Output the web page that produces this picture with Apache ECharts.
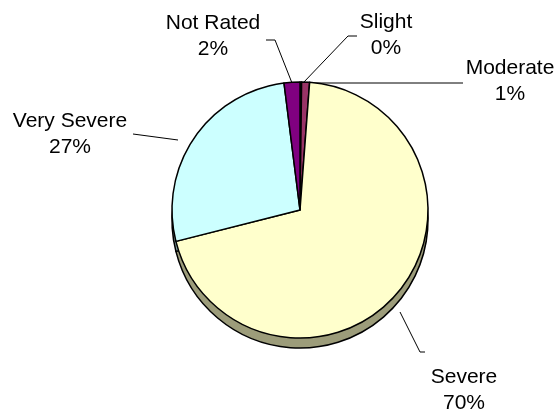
<!DOCTYPE html>
<html>
<head>
<meta charset="utf-8">
<script src="https://cdn.jsdelivr.net/npm/echarts@6/dist/echarts.min.js"></script>
<style>
  html, body { margin: 0; padding: 0; background: #ffffff; }
  #chart { width: 559px; height: 414px; }
</style>
</head>
<body>
<div id="chart"></div>
<script>
  // clockwise from 12 o'clock
  const categories = ['Slight', 'Moderate', 'Severe', 'Very Severe', 'Not Rated'];
  const values = [0.2, 1, 70, 27, 2];
  const topColors = ['#3366cc', '#993366', '#ffffcc', '#ccffff', '#800080'];
  const sideColors = ['#223f80', '#5e1f3f', '#9c9c7a', '#7fa0a0', '#4d004d'];

  // label anchor + leader line per category (layout only)
  const labelPos = {
    'Slight':      { x: 386, y: 35, line: [[357, 36], [348, 36], [303, 83]] },
    'Moderate':    { x: 510, y: 81, line: [[463, 83], [307, 83]] },
    'Severe':      { x: 464, y: 390, line: [[425, 352], [420, 352], [400, 312]] },
    'Very Severe': { x: 70, y: 134, line: [[133, 134], [178, 140]] },
    'Not Rated':   { x: 213, y: 36, line: [[266, 40], [275, 40], [292, 83]] }
  };

  const chart = echarts.init(document.getElementById('chart'));

  const topData = categories.map((c, i) => ({
    name: c, value: values[i], itemStyle: { color: topColors[i] }
  }));
  const sideData = categories.map((c, i) => ({
    name: c, value: values[i], itemStyle: { color: sideColors[i] }
  }));

  chart.setOption({
    animation: false,
    series: [
      {
        type: 'pie',
        silent: true,
        center: [300, 220],
        radius: 128,
        startAngle: 90,
        clockwise: true,
        minAngle: 0,
        label: { show: false },
        labelLine: { show: false },
        itemStyle: { borderColor: '#000', borderWidth: 1.5 },
        data: sideData,
        z: 1
      },
      {
        type: 'pie',
        center: [300, 210],
        radius: 128,
        startAngle: 90,
        clockwise: true,
        minAngle: 0,
        avoidLabelOverlap: false,
        itemStyle: { borderColor: '#000', borderWidth: 1.5 },
        label: {
          show: true,
          color: '#000',
          fontFamily: 'Liberation Sans, Arial, sans-serif',
          fontSize: 21,
          lineHeight: 26,
          align: 'center',
          formatter: p => p.name + '\n' + Math.round(p.percent) + '%'
        },
        labelLine: {
          show: true,
          lineStyle: { color: '#000', width: 1 }
        },
        labelLayout: function (params) {
          const name = categories[params.dataIndex];
          const pos = labelPos[name];
          return {
            x: pos.x,
            y: pos.y,
            align: 'center',
            verticalAlign: 'middle',
            labelLinePoints: pos.line
          };
        },
        data: topData,
        z: 2
      }
    ]
  });
</script>
</body>
</html>
